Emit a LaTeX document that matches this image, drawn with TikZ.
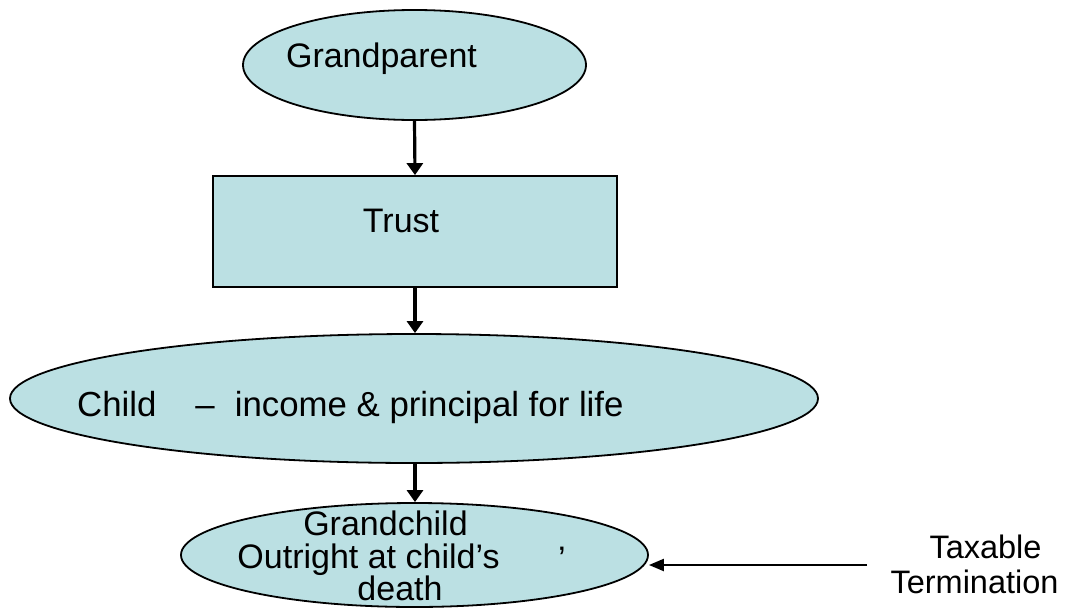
\documentclass[tikz,border=0pt]{standalone}
\usepackage{fontspec}
\setmainfont{Liberation Sans}
\usetikzlibrary{shapes.geometric,arrows.meta}
\definecolor{boxfill}{RGB}{187,224,227}
\tikzset{
  shapebox/.style={draw=black,line width=1.8pt,fill=boxfill,inner sep=0pt},
  ellbox/.style={shapebox,ellipse},
  rectbox/.style={shapebox,rectangle},
  lbl/.style={inner sep=0pt,font=\fontsize{34}{34}\selectfont,anchor=base},
  flow/.style={line width=3.2pt,-{Triangle[width=16pt,length=12pt]}},
  sideflow/.style={line width=2.2pt,-{Triangle[width=12pt,length=15pt]}}
}
\begin{document}
\begin{tikzpicture}[x=1pt,y=-1pt]
\useasboundingbox (0,0) rectangle (1068,608);
\node[ellbox,minimum width=343pt,minimum height=110pt] (gp) at (414.5,65) {};
\node[rectbox,minimum width=404pt,minimum height=111pt] (trust) at (415,231.5) {};
\node[ellbox,minimum width=808pt,minimum height=129pt] (child) at (414,398.5) {};
\node[ellbox,minimum width=467pt,minimum height=104pt] (gc) at (414.5,555) {};
\node[lbl] (gpt) at (381.5,67) {Grandparent};
\node[lbl] (trt) at (401,232) {Trust};
\node[lbl,anchor=base west,font=\fontsize{34.8}{34.8}\selectfont] (cht) at (77,416) {Child\hspace{39pt}–\hspace{20pt}income \& principal for life};
\node[lbl] (gc1) at (385.5,535) {Grandchild};
\node[lbl] (gc2) at (368.5,568) {Outright at child’s};
\node[lbl] (gc3) at (400,600) {death};
\node[lbl] (gcq) at (562,570) {’};
\node[lbl,font=\fontsize{32.5}{32.5}\selectfont] (tx1) at (985.5,558) {Taxable};
\node[lbl,font=\fontsize{32.5}{32.5}\selectfont] (tx2) at (974.5,593) {Termination};
\coordinate (tstart) at (867,565);
\draw[flow] (gp.south) -- (trust.north);
\draw[flow] (trust.south) -- (child.north -| trust.south);
\draw[flow] (child.south -| trust.south) -- (gc.north -| trust.south);
\draw[sideflow] (tstart) -- (tstart -| gc.east);
\end{tikzpicture}
\end{document}
